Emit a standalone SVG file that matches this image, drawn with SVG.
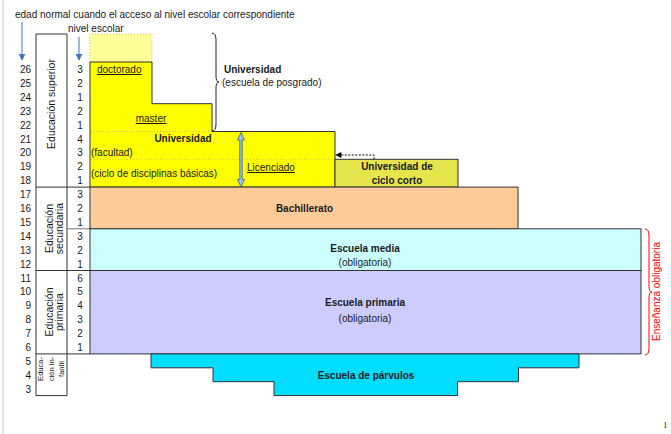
<svg xmlns="http://www.w3.org/2000/svg" width="671" height="434" viewBox="0 0 671 434">
<style>
text{font-family:"Liberation Sans",Arial,sans-serif;font-size:10px;fill:#1a1a1a}
.b{font-weight:bold}
.m{text-anchor:middle}
.r{text-anchor:end}
.u{text-decoration:underline}
.sh{stroke:#333;stroke-width:1}
.tl{stroke:#333;stroke-width:1;fill:none}
.dot{stroke:#b5b560;stroke-width:0.8;stroke-dasharray:1,2;fill:none}
.red{fill:#ff0000}
</style>
<defs>
<marker id="ab" viewBox="0 0 10 10" refX="9" refY="5" markerWidth="7" markerHeight="7" orient="auto" markerUnits="userSpaceOnUse"><path d="M0,0 L10,5 L0,10 Z" fill="#4472c4"/></marker>
<marker id="ak" viewBox="0 0 10 10" refX="9" refY="5" markerWidth="8" markerHeight="6" orient="auto" markerUnits="userSpaceOnUse"><path d="M0,0 L10,5 L0,10 Z" fill="#000"/></marker>
</defs>
<rect width="671" height="434" fill="#fff"/>
<line x1="3" y1="0" x2="3" y2="434" stroke="#c8c8c8" stroke-width="1"/>

<g id="headers">
<text x="15" y="18">edad normal cuando el acceso al nivel escolar correspondiente</text>
<text x="68" y="32">nivel escolar</text>
</g>

<g id="ages" class="ages">
<text class="r" x="31" y="73">26</text>
<text class="r" x="31" y="86.9">25</text>
<text class="r" x="31" y="100.8">24</text>
<text class="r" x="31" y="114.7">23</text>
<text class="r" x="31" y="128.6">22</text>
<text class="r" x="31" y="142.5">21</text>
<text class="r" x="31" y="156.4">20</text>
<text class="r" x="31" y="170.3">19</text>
<text class="r" x="31" y="184.2">18</text>
<text class="r" x="31" y="198.1">17</text>
<text class="r" x="31" y="212">16</text>
<text class="r" x="31" y="225.9">15</text>
<text class="r" x="31" y="239.8">14</text>
<text class="r" x="31" y="253.7">13</text>
<text class="r" x="31" y="267.6">12</text>
<text class="r" x="31" y="281.5">11</text>
<text class="r" x="31" y="295.4">10</text>
<text class="r" x="31" y="309.3">9</text>
<text class="r" x="31" y="323.2">8</text>
<text class="r" x="31" y="337.1">7</text>
<text class="r" x="31" y="351">6</text>
<text class="r" x="31" y="364.9">5</text>
<text class="r" x="31" y="378.8">4</text>
<text class="r" x="31" y="392.7">3</text>
</g>

<g id="levels">
<text class="m" x="80" y="73">3</text>
<text class="m" x="80" y="86.9">2</text>
<text class="m" x="80" y="100.8">1</text>
<text class="m" x="80" y="114.7">2</text>
<text class="m" x="80" y="128.6">1</text>
<text class="m" x="80" y="142.5">4</text>
<text class="m" x="80" y="156.4">3</text>
<text class="m" x="80" y="170.3">2</text>
<text class="m" x="80" y="184.2">1</text>
<text class="m" x="80" y="198.1">3</text>
<text class="m" x="80" y="212">2</text>
<text class="m" x="80" y="225.9">1</text>
<text class="m" x="80" y="239.8">3</text>
<text class="m" x="80" y="253.7">2</text>
<text class="m" x="80" y="267.6">1</text>
<text class="m" x="80" y="281.5">6</text>
<text class="m" x="80" y="295.4">5</text>
<text class="m" x="80" y="309.3">4</text>
<text class="m" x="80" y="323.2">3</text>
<text class="m" x="80" y="337.1">2</text>
<text class="m" x="80" y="351">1</text>
</g>

<g id="table">
<path class="tl" d="M36,395.6 V34 H67 V395.6 H36 M36,187.1 H90 M36,270.5 H90 M36,353.9 H90"/>
<line x1="67" y1="228.8" x2="90" y2="228.8" stroke="#777" stroke-width="1"/>
<text class="m" transform="translate(55,104) rotate(-90)" style="font-size:10.5px">Educación superior</text>
<text class="m" transform="translate(52.5,228.5) rotate(-90)" style="font-size:10.5px">Educación</text>
<text class="m" transform="translate(62.5,228.5) rotate(-90)" style="font-size:10.5px">secundaria</text>
<text class="m" transform="translate(52.5,312) rotate(-90)" style="font-size:10.5px">Educación</text>
<text class="m" transform="translate(62.5,312) rotate(-90)" style="font-size:10.5px">primaria</text>
<text class="m" transform="translate(43,369) rotate(-90)" style="font-size:7.5px">Educa-</text>
<text class="m" transform="translate(53.5,369) rotate(-90)" style="font-size:7.5px">ción in-</text>
<text class="m" transform="translate(63.5,369) rotate(-90)" style="font-size:7.5px">fantil</text>
</g>

<g id="posgrado-extra">
<rect x="90" y="34" width="62" height="28" fill="#ffff99"/>
<path class="dot" d="M90,62 V34 H152 V62"/>
</g>

<g id="universidad">
<path class="sh" fill="#ffff00" d="M90,62 H152 V103.7 H212 V131.5 H335 V187.1 H90 Z"/>
<path class="dot" d="M91,131.5 H212 M91,159.3 H334"/>
<text class="u" x="97" y="73">doctorado</text>
<text class="u m" x="151" y="122">master</text>
<text class="b m" x="183" y="142">Universidad</text>
<text x="91" y="156">(facultad)</text>
<text x="91" y="177">(ciclo de disciplinas básicas)</text>
<text class="u" x="247" y="171">Licenciado</text>
<polygon points="241,132.5 244.5,140 242.2,140 242.2,179.5 244.5,179.5 241,187 237.5,179.5 239.8,179.5 239.8,140 237.5,140" fill="#9dc3e6" stroke="#3f5f7f" stroke-width="0.8"/>
</g>

<g id="posgrado-label">
<path d="M212,33 Q216,33 216,40 V76 Q216,82 219,82 Q216,82 216,88 V124 Q216,131 212,131" fill="none" stroke="#222" stroke-width="1"/>
<text class="b" x="224" y="73">Universidad</text>
<text x="222" y="86">(escuela de posgrado)</text>
</g>

<g id="ciclo-corto">
<rect class="sh" x="335" y="159.3" width="123" height="27.8" fill="#e6e64c" stroke="#555"/>
<text class="b m" x="397" y="170">Universidad de</text>
<text class="b m" x="397" y="184">ciclo corto</text>
</g>

<g id="bachillerato">
<rect class="sh" x="90" y="187.1" width="428" height="41.7" fill="#ffcc99"/>
<text class="b m" x="304.5" y="212">Bachillerato</text>
</g>

<g id="escuela-media">
<rect class="sh" x="90" y="228.8" width="551" height="41.7" fill="#ccffff"/>
<text class="b m" x="365" y="252">Escuela media</text>
<text class="m" x="365" y="266">(obligatoria)</text>
</g>

<g id="escuela-primaria">
<rect class="sh" x="90" y="270.5" width="551" height="83.4" fill="#ccccff"/>
<text class="b m" x="365" y="306">Escuela primaria</text>
<text class="m" x="365" y="322">(obligatoria)</text>
</g>

<g id="parvulos">
<path class="sh" fill="#00ddff" d="M151,353.9 H579 V367.8 H518.5 V381.7 H457.5 V395.6 H274 V381.7 H213 V367.8 H151 Z"/>
<text class="b m" x="366" y="379">Escuela de párvulos</text>
</g>

<g id="obligatoria">
<path d="M645,229 Q649,229 649,236 V286 Q649,292 652,292 Q649,292 649,298 V348 Q649,355 645,355" fill="none" stroke="#ff0000" stroke-width="1"/>
<text class="m red" transform="translate(660,291.5) rotate(-90)">Enseñanza obligatoria</text>
</g>

<g id="connectors">
<line x1="22" y1="22" x2="22" y2="60" stroke="#4472c4" stroke-width="1" marker-end="url(#ab)"/>
<line x1="79" y1="37" x2="79" y2="60" stroke="#4472c4" stroke-width="1" marker-end="url(#ab)"/>
<path d="M374,159.3 V155 H336" fill="none" stroke="#000" stroke-width="1" stroke-dasharray="2,1.5" marker-end="url(#ak)"/>
</g>

<text x="663" y="428" style="font-family:'Liberation Serif',serif;font-size:9px">1</text>
</svg>
